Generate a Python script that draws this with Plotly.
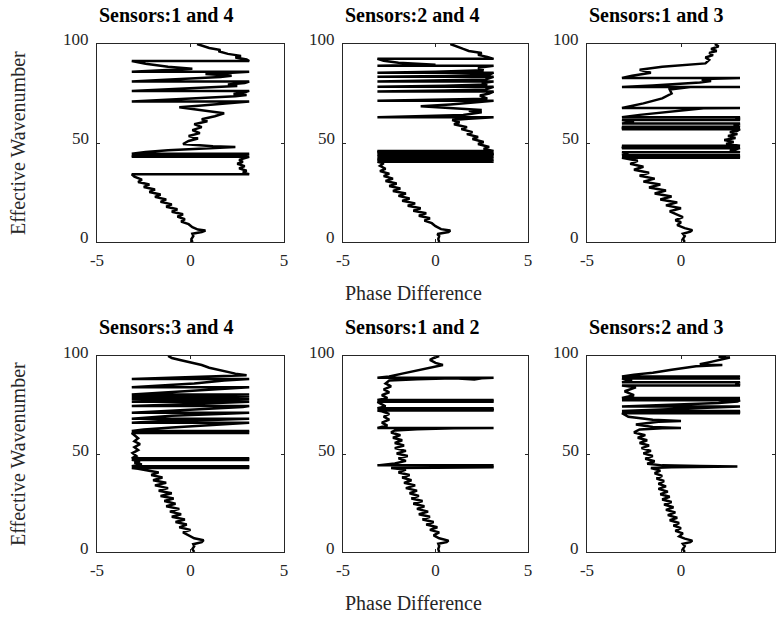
import plotly.graph_objects as go

# Wrapped phase difference (rad) against effective wavenumber for each sensor pair.
# Each list holds (phase, wavenumber) samples in acquisition order.
pair_1_4 = [
    (0.1, 0), (0.05, 1.5), (0.15, 3), (0.1, 4.2), (0.6, 5), (0.8, 5.8), (0.4, 6.3), (0.1, 7.5),
    (-0.1, 9), (-0.5, 10.3), (-0.3, 11.5), (-0.7, 12.8), (-0.4, 14), (-1.0, 15.3), (-0.7, 16.5),
    (-1.3, 17.8), (-1.0, 19), (-1.6, 20.3), (-1.3, 21.5), (-1.9, 22.8), (-1.6, 24), (-2.2, 25.3),
    (-1.9, 26.5), (-2.5, 27.8), (-2.2, 29), (-2.8, 30.3), (-2.6, 31.5), (-3.0, 33), (-3.14, 34.2),
    (3.14, 34.2), (2.8, 35), (3.0, 36), (2.6, 37.2), (2.9, 38.3), (2.5, 39.5), (2.8, 40.5),
    (2.6, 41.5), (3.0, 42.5), (3.14, 43), (-3.14, 43), (-3.0, 43.5), (-3.14, 43.8), (3.14, 43.8),
    (2.7, 44.2), (3.14, 44.6), (-3.14, 44.6), (-2.4, 45.5), (-1.2, 46.3), (0.5, 47.2), (2.4, 48),
    (1.2, 48.4), (-0.4, 49.5), (-0.1, 51), (0.4, 52.3), (-0.1, 53.5), (0.5, 55), (0.1, 56.5),
    (0.6, 58), (0.2, 59.5), (0.9, 61), (0.6, 62), (1.3, 63.5), (1.8, 65), (0.6, 66.5), (-0.6, 68),
    (0.6, 69), (1.8, 70), (2.6, 70.6), (3.14, 71), (-3.14, 71), (-1.8, 71.6), (-0.2, 72.2),
    (1.5, 73), (2.4, 73.6), (3.0, 74.2), (2.3, 74.8), (2.9, 75.6), (3.14, 76.3), (-3.14, 76.3),
    (-1.5, 77), (0.3, 77.6), (1.6, 78.2), (2.5, 78.8), (2.0, 79.5), (2.9, 80.3), (3.14, 81),
    (-3.14, 81), (-1.6, 81.8), (0.2, 82.6), (1.6, 83.3), (2.2, 84), (0.8, 84.8), (2.0, 85.4),
    (3.14, 86), (-3.14, 86), (-1.6, 86.8), (0.1, 87.5), (-1.2, 88.5), (-2.4, 90), (-3.14, 91.4),
    (3.14, 91.4), (3.0, 92.2), (2.4, 93.2), (2.7, 94), (2.0, 95), (1.5, 96.3), (1.6, 97),
    (1.0, 98), (0.6, 99), (0.35, 100),
]

pair_2_4 = [
    (0.2, 0), (0.15, 1.5), (0.2, 3), (0.1, 4), (0.7, 5), (0.8, 5.8), (0.3, 6.5), (0.0, 8),
    (-0.2, 9.5), (-0.6, 10.8), (-0.3, 12), (-0.9, 13.3), (-0.5, 14.5), (-1.2, 15.8), (-0.8, 17),
    (-1.5, 18.3), (-1.1, 19.5), (-1.8, 20.8), (-1.4, 22), (-2.0, 23.3), (-1.6, 24.5), (-2.3, 25.8),
    (-1.9, 27), (-2.5, 28.3), (-2.1, 29.5), (-2.7, 30.8), (-2.3, 32), (-2.8, 33.3), (-2.5, 34.5),
    (-3.0, 35.8), (-2.7, 37), (-3.0, 38.5), (-2.8, 39.8), (-3.14, 40.5), (3.14, 40.5), (2.9, 41),
    (3.14, 41.3), (-3.14, 41.3), (-3.0, 41.8), (-3.14, 42.2), (3.14, 42.2), (2.8, 42.6),
    (3.14, 43), (-3.14, 43), (-2.9, 43.5), (-3.14, 44), (3.14, 44), (3.0, 44.6), (3.14, 45),
    (-3.14, 45), (-3.0, 45.5), (-3.14, 46), (3.14, 46), (2.6, 47), (2.9, 48), (2.3, 49.5),
    (2.6, 50.5), (2.0, 52), (2.3, 53), (1.7, 54.5), (2.0, 55.5), (1.4, 57), (1.7, 58), (1.0, 59.5),
    (1.3, 60.5), (0.9, 61.6), (1.8, 62.3), (3.14, 63), (-3.14, 63), (-1.0, 63.5), (1.5, 64.2),
    (2.5, 65.5), (1.8, 66.3), (2.5, 66.7), (1.0, 67.5), (-0.8, 68.5), (0.8, 69.5), (2.2, 70.5),
    (3.14, 71.3), (-3.14, 71.3), (0.0, 71.8), (2.8, 72.4), (2.4, 74), (2.9, 75), (3.14, 76),
    (-3.14, 76), (0.5, 76.5), (2.7, 77), (3.14, 78.4), (-3.14, 78.4), (0.5, 78.9), (2.8, 79.5),
    (2.5, 80.3), (3.14, 81), (-3.14, 81), (0.2, 81.5), (2.7, 82.1), (3.14, 83.4), (-3.14, 83.4),
    (0.5, 83.9), (2.9, 84.5), (3.14, 85.5), (-3.14, 85.5), (0.0, 86), (2.6, 86.8), (2.3, 88),
    (3.14, 89), (-3.14, 89), (0.0, 89.5), (-2.0, 90.5), (-2.8, 91.5), (-3.14, 92.5), (3.14, 92.5),
    (2.8, 93.5), (2.3, 94.5), (2.5, 95.5), (1.8, 96.5), (1.5, 97.5), (1.2, 98.5), (1.0, 99.5),
    (0.8, 100),
]

pair_1_3 = [
    (0.2, 0), (0.1, 1.5), (0.2, 3), (0.1, 4.2), (0.5, 5.2), (0.6, 6), (0.2, 7), (-0.2, 8.5),
    (0.0, 10), (-0.3, 11), (0.1, 12.6), (-0.2, 14), (-0.6, 15.5), (0.0, 17), (-0.8, 18.5),
    (-0.2, 20), (-1.1, 21.5), (-0.5, 23), (-1.4, 24.5), (-0.8, 26), (-1.7, 27.5), (-1.1, 29),
    (-2.0, 30.5), (-1.4, 32), (-2.2, 33.5), (-1.7, 35), (-2.5, 36.5), (-2.0, 38), (-2.7, 39.5),
    (-2.3, 41), (-3.14, 42.6), (3.14, 42.6), (2.7, 43.3), (3.14, 43.8), (-3.14, 43.8),
    (-2.8, 44.5), (-3.14, 45.3), (3.14, 45.3), (2.6, 46), (2.9, 46.8), (3.14, 47.4), (-3.14, 47.4),
    (-3.0, 48.2), (-3.14, 48.6), (3.14, 48.6), (2.4, 49.5), (2.8, 50.5), (2.3, 51.5), (2.9, 52.5),
    (2.5, 53.5), (3.0, 54.5), (2.6, 55.5), (3.0, 56.2), (3.14, 57), (-3.14, 57), (-3.0, 57.6),
    (-3.14, 58.2), (3.14, 58.2), (2.8, 59), (3.14, 59.8), (-3.14, 59.8), (-2.5, 60.5),
    (-3.14, 61.6), (3.14, 61.6), (2.9, 62.3), (3.14, 63), (-3.14, 63), (-2.2, 64.2), (-1.0, 65.5),
    (0.3, 66.8), (1.2, 67.5), (3.14, 67.7), (-3.14, 67.7), (-2.0, 70), (-1.0, 72.5), (-0.5, 75),
    (-0.6, 77), (0.5, 78.3), (3.14, 78.3), (-3.14, 78.3), (-1.5, 79), (0.2, 79.8), (1.0, 80.5),
    (1.6, 81.3), (1.1, 82), (1.7, 82.5), (3.14, 82.8), (-3.14, 82.8), (-2.6, 84), (-1.6, 85.5),
    (-2.2, 87), (-1.0, 88.5), (0.2, 89.5), (1.3, 90.2), (1.5, 92), (1.3, 93.2), (1.7, 94.4),
    (1.5, 95.5), (1.9, 96.5), (1.6, 97.5), (2.0, 98.8), (1.8, 100),
]

pair_3_4 = [
    (0.2, 0), (0.1, 1.5), (0.2, 3), (0.15, 4), (0.6, 5), (0.7, 6), (0.2, 7), (-0.1, 8.5),
    (-0.4, 10), (0.0, 11.3), (-0.6, 12.6), (-0.2, 14), (-0.8, 15.3), (-0.3, 16.6), (-1.0, 18),
    (-0.5, 19.3), (-1.1, 20.6), (-0.6, 22), (-1.3, 23.3), (-0.8, 24.6), (-1.4, 26), (-0.9, 27.3),
    (-1.6, 28.6), (-1.0, 30), (-1.7, 31.3), (-1.2, 32.6), (-1.9, 34), (-1.3, 35.3), (-2.0, 36.6),
    (-1.5, 38), (-2.1, 39.3), (-1.7, 40.6), (-2.3, 41.8), (-2.8, 42.5), (-3.14, 42.9),
    (3.14, 42.9), (3.0, 43.4), (3.14, 43.8), (-3.14, 43.8), (-2.6, 44.6), (-3.0, 45.5),
    (-2.7, 46.3), (-3.14, 47), (3.14, 47), (3.0, 47.4), (3.14, 47.8), (-3.14, 47.8), (-2.9, 49),
    (-3.1, 50.5), (-2.8, 52), (-3.0, 53.5), (-2.7, 55), (-3.0, 56.5), (-2.8, 58), (-3.14, 60.7),
    (3.14, 60.7), (2.9, 61.2), (3.14, 61.7), (-3.14, 61.7), (-2.5, 62.5), (-1.0, 63.5), (0.5, 64.5),
    (2.0, 65.3), (3.14, 66), (-3.14, 66), (-1.5, 66.8), (1.5, 67.5), (3.14, 68), (-3.14, 68),
    (-1.0, 69.5), (1.5, 70.4), (3.14, 71), (-3.14, 71), (-1.0, 72), (1.0, 73), (2.8, 74),
    (3.14, 74.5), (-3.14, 74.5), (0.0, 75.5), (2.5, 76.3), (3.14, 76.6), (-3.14, 76.6),
    (-0.5, 77.2), (2.6, 77.8), (3.14, 78), (-3.14, 78), (0.5, 78.6), (3.0, 79.2), (3.14, 79.4),
    (-3.14, 79.4), (1.0, 80), (3.14, 80.4), (-3.14, 80.4), (-1.0, 81.5), (0.8, 82.5), (2.2, 83.3),
    (3.14, 84), (-3.14, 84), (-1.5, 85), (0.2, 86), (1.8, 87.5), (3.14, 88.3), (-3.14, 88.3),
    (-1.5, 88.8), (0.5, 89.2), (2.5, 89.7), (3.0, 90.2), (2.4, 91), (1.6, 92.5), (1.0, 94),
    (0.6, 95.4), (0.2, 96.2), (-0.2, 97), (-0.56, 98), (-1.0, 99), (-1.2, 100),
]

pair_1_2 = [
    (0.2, 0), (0.15, 1.5), (0.2, 3), (0.15, 4.2), (0.6, 5), (0.7, 5.8), (0.2, 7), (-0.1, 8.5),
    (0.2, 10), (-0.3, 11.3), (0.1, 12.6), (-0.5, 14), (-0.1, 15.3), (-0.7, 16.6), (-0.3, 18),
    (-0.9, 19.3), (-0.4, 20.6), (-1.0, 22), (-0.6, 23.3), (-1.2, 24.6), (-0.7, 26), (-1.3, 27.3),
    (-0.9, 28.6), (-1.4, 30), (-1.0, 31.3), (-1.6, 32.6), (-1.1, 34), (-1.7, 35.3), (-1.3, 36.6),
    (-1.8, 38), (-1.4, 39.3), (-2.0, 40.6), (-1.6, 42), (-2.4, 42.9), (0.0, 43.0), (3.14, 43.2),
    (2.9, 43.8), (3.14, 44.2), (-3.14, 44.2), (-2.2, 45.2), (-1.6, 46.5), (-2.0, 47.8),
    (-1.5, 49), (-2.1, 50.3), (-1.6, 51.6), (-2.2, 53), (-1.7, 54.3), (-2.2, 55.6), (-1.8, 57),
    (-2.3, 58.3), (-1.9, 59.6), (-2.4, 61), (-2.2, 62), (-1.0, 62.6), (1.0, 63.1), (3.14, 63.3),
    (-3.14, 63.3), (-2.6, 64.5), (-2.9, 66), (-2.5, 67.5), (-2.8, 69), (-2.5, 70.5), (-2.9, 71.8),
    (-3.14, 72.2), (3.14, 72.2), (3.0, 72.8), (3.14, 73.3), (-3.14, 73.3), (-2.7, 74.3),
    (-3.0, 75.8), (-3.14, 76.6), (3.14, 76.6), (3.0, 77.1), (3.14, 77.5), (-3.14, 77.5),
    (-2.6, 78.5), (-2.9, 80), (-2.5, 81.5), (-2.8, 83), (-2.4, 84.5), (-2.7, 86), (-2.5, 87.5),
    (-1.0, 88.2), (1.0, 88.6), (2.1, 88.0), (2.5, 88.6), (3.14, 88.9), (-3.14, 88.9),
    (-2.5, 89.5), (-1.8, 91), (-1.0, 92.5), (-0.2, 94), (0.4, 95.4), (0.0, 96.5), (-0.3, 98),
    (-0.1, 99), (0.2, 100),
]

pair_2_3 = [
    (0.2, 0), (0.1, 1.5), (0.2, 3), (0.1, 4.2), (0.5, 5), (0.6, 5.8), (0.2, 6.8), (-0.1, 8),
    (0.1, 9.5), (-0.3, 10.8), (0.0, 12.2), (-0.4, 13.5), (-0.1, 14.8), (-0.6, 16.2), (-0.2, 17.5),
    (-0.7, 18.8), (-0.3, 20.2), (-0.8, 21.5), (-0.4, 22.8), (-0.9, 24.2), (-0.5, 25.5),
    (-1.0, 26.8), (-0.6, 28.2), (-1.1, 29.5), (-0.7, 30.8), (-1.2, 32.2), (-0.8, 33.5),
    (-1.2, 34.8), (-0.9, 36.2), (-1.3, 37.5), (-1.0, 38.8), (-1.4, 40.2), (-1.1, 41.5),
    (-1.6, 42.8), (-0.5, 43.3), (1.5, 43.5), (3.0, 43.6), (1.0, 43.9), (-1.0, 44.2), (-1.8, 45),
    (-1.4, 46.3), (-1.9, 47.6), (-1.5, 49), (-2.0, 50.3), (-1.6, 51.6), (-2.1, 53), (-1.7, 54.3),
    (-2.2, 55.6), (-1.8, 57), (-2.3, 58.3), (-1.9, 59.6), (-2.5, 61), (-2.2, 62.5), (-1.0, 63.1),
    (0.0, 63.3), (-1.5, 63.8), (-2.4, 65), (-1.2, 66.5), (0.0, 66.8), (-1.5, 67.5), (-2.8, 69),
    (-3.14, 70.8), (3.14, 70.8), (2.9, 71.4), (3.14, 72), (-3.14, 72), (-1.0, 72.8), (1.5, 73.5),
    (3.14, 74.2), (-3.14, 74.2), (-0.5, 75), (2.0, 76), (3.0, 76.8), (3.14, 77.4), (-3.14, 77.4),
    (-1.0, 78), (1.5, 78.6), (3.14, 78.6), (-3.14, 78.6), (-2.5, 80), (-3.0, 82), (-2.4, 84),
    (-3.14, 85), (3.14, 85), (2.9, 85.8), (3.14, 86.6), (-3.14, 86.6), (-2.6, 87.5), (-3.14, 88.5),
    (3.14, 88.5), (2.8, 89), (3.14, 89.5), (-3.14, 89.5), (-2.5, 90.5), (-1.5, 91.5), (-0.5, 93),
    (0.8, 94.8), (2.2, 95.4), (1.0, 95.8), (1.6, 97), (2.2, 98.5), (2.6, 99.2), (2.0, 99.6),
    (2.4, 100),
]

panel_titles = ["Sensors:1 and 4", "Sensors:2 and 4", "Sensors:1 and 3",
                "Sensors:3 and 4", "Sensors:1 and 2", "Sensors:2 and 3"]
panel_data = [pair_1_4, pair_2_4, pair_1_3, pair_3_4, pair_1_2, pair_2_3]
x_ticks = [-5, 0, 5]
x_tick_text = ["-5", "0", "5"]
y_ticks = [0, 50, 100]
y_tick_text = ["0", "50", "100"]

W, H = 778, 620
col_px = [(97, 284), (343, 528), (587, 775)]
row_px = [(44, 242), (356, 552)]

FONT = "Liberation Serif"
AXIS_COLOR = "#262626"
TICK_SIZE = 17
LABEL_SIZE = 20

fig = go.Figure()
annotations = []

for i, (title, pts) in enumerate(zip(panel_titles, panel_data)):
    r, c = divmod(i, 3)
    n = i + 1
    xa = "xaxis" if n == 1 else f"xaxis{n}"
    ya = "yaxis" if n == 1 else f"yaxis{n}"
    xref = "x" if n == 1 else f"x{n}"
    yref = "y" if n == 1 else f"y{n}"

    phase, wavenumber = zip(*pts)
    fig.add_trace(go.Scatter(
        x=list(phase), y=list(wavenumber), mode="lines",
        line=dict(color="black", width=2.5),
        xaxis=xref, yaxis=yref, showlegend=False, hoverinfo="skip",
    ))

    x0, x1 = col_px[c]
    y0, y1 = row_px[r]
    axis_common = dict(
        showline=True, mirror="ticks", linecolor=AXIS_COLOR, linewidth=1,
        ticks="inside", ticklen=3, tickcolor=AXIS_COLOR,
        showgrid=False, zeroline=False, automargin=False,
        tickfont=dict(family=FONT, size=TICK_SIZE, color=AXIS_COLOR),
    )
    fig.update_layout({
        xa: dict(axis_common, domain=[x0 / W, x1 / W], range=[-5, 5],
                 tickvals=x_ticks, ticktext=x_tick_text, anchor=yref,
                 ticklabelstandoff=3),
        ya: dict(axis_common, domain=[1 - y1 / H, 1 - y0 / H], range=[0, 100],
                 tickvals=y_ticks, showticklabels=False, anchor=xref),
    })

    # y tick labels sit slightly above their tick marks
    for v, txt in zip(y_ticks, y_tick_text):
        py = y1 - (y1 - y0) * v / 100 - 4
        annotations.append(dict(
            text=txt, x=(x0 - 6) / W, y=1 - py / H,
            xref="paper", yref="paper", showarrow=False,
            xanchor="right", yanchor="middle",
            font=dict(family=FONT, size=TICK_SIZE, color=AXIS_COLOR),
        ))

    annotations.append(dict(
        text=f"<b>{title}</b>", x=x0 / W, y=1 - (y0 - 29) / H,
        xref="paper", yref="paper", showarrow=False, xanchor="left", yanchor="middle",
        font=dict(family=FONT, size=LABEL_SIZE, color="black"),
    ))

for r, (y0, y1) in enumerate(row_px):
    annotations.append(dict(
        text="Effective Wavenumber", x=18 / W, y=1 - (y0 + y1) / 2 / H,
        xref="paper", yref="paper", showarrow=False, textangle=-90,
        xanchor="center", yanchor="middle",
        font=dict(family=FONT, size=LABEL_SIZE, color=AXIS_COLOR),
    ))
    annotations.append(dict(
        text="Phase Difference", x=413 / W, y=1 - (y1 + 51) / H,
        xref="paper", yref="paper", showarrow=False,
        xanchor="center", yanchor="middle",
        font=dict(family=FONT, size=LABEL_SIZE, color=AXIS_COLOR),
    ))

fig.update_layout(
    width=W, height=H, margin=dict(l=0, r=0, t=0, b=0, autoexpand=False),
    paper_bgcolor="white", plot_bgcolor="white",
    annotations=annotations, showlegend=False,
)

fig.write_html("out.html")
